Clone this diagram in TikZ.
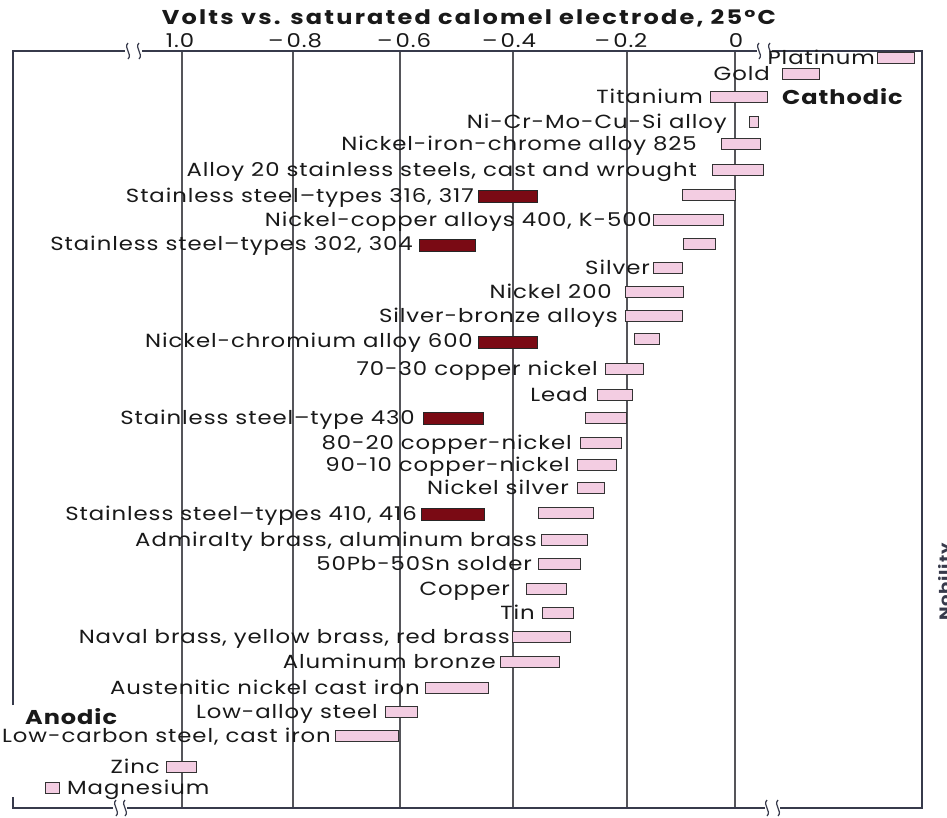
\documentclass[tikz,border=0pt]{standalone}
\usepackage{fontspec}
\setmainfont{Poppins}[FakeStretch=1.2, LetterSpace=4.8]
\newcommand\labfont{\fontsize{19}{22}\selectfont}
\definecolor{pinkfill}{RGB}{243,205,226}
\definecolor{darkredfill}{RGB}{122,10,20}
\definecolor{gridc}{RGB}{85,85,90}
\definecolor{framec}{RGB}{55,58,75}
\definecolor{txt}{RGB}{25,25,25}
\tikzset{
  lab/.style={anchor=base east, inner sep=0pt, font=\labfont, text=txt},
  pinkbar/.style={fill=pinkfill, draw=black!80, line width=1pt},
  redbar/.style={fill=darkredfill, draw=black!85, line width=1pt},
  gridline/.style={draw=gridc, line width=1.1pt},
  framel/.style={draw=framec, line width=1.4pt},
  brk/.style={draw=framec, line width=1.2pt},
  tick/.style={anchor=base, inner sep=0pt, font=\labfont, text=txt},
  sidelab/.style={inner sep=0pt, font=\fontsize{20}{23}\selectfont\bfseries, text=txt}
}
\newcommand\pb[3]{\draw[pinkbar] (#2,#1-5.5) rectangle (#3,#1+5.5);}
\newcommand\rb[3]{\draw[redbar] (#2,#1-6) rectangle (#3,#1+6);}
\begin{document}
\begin{tikzpicture}[x=1pt,y=-1pt]
\useasboundingbox (0,0) rectangle (947,817);
\fill[white] (0,0) rectangle (947,817);
% grid lines
\foreach \gx in {182,293,400,513,627,735} {\draw[gridline] (\gx,51) -- (\gx,808);}
% frame
\draw[framel] (13,705) -- (13,51) -- (125,51);
\draw[framel] (142,51) -- (757,51);
\draw[framel] (772,51) -- (922,51) -- (922,808) -- (780,808);
\draw[framel] (765,808) -- (127,808);
\draw[framel] (113,808) -- (13,808) -- (13,797);
% break marks
\foreach \bx/\by in {128/51,139/51,759/51,770/51,116/808,125/808,767/808,778/808}
  {\draw[brk] (\bx,\by-8) .. controls (\bx-5,\by-3) and (\bx+5,\by+3) .. (\bx,\by+8);}
% title and ticks
\node[anchor=base, inner sep=0pt, font=\fontsize{20}{23}\selectfont\bfseries\addfontfeatures{LetterSpace=11}, text=txt] (title) at (469,24) {Volts vs. saturated calomel electrode, 25°C};
\node[tick] (t1) at (180,47) {1.0};
\node[tick] (t2) at (295,47) {–\,0.8};
\node[tick] (t3) at (404,47) {–\,0.6};
\node[tick] (t4) at (509,47) {–\,0.4};
\node[tick] (t5) at (621,47) {–\,0.2};
\node[tick] (t6) at (736,47) {0};
% rows
\node[lab] (l1) at (875,64.5) {Platinum}; \pb{58}{877}{914}
\node[lab] (l2) at (770,80.5) {Gold}; \pb{74}{782}{819}
\node[lab] (l3) at (703,103.5) {Titanium}; \pb{97}{710}{767}
\node[sidelab, anchor=base west] (cath) at (782,104) {Cathodic};
\node[lab] (l4) at (727,128.5) {Ni-Cr-Mo-Cu-Si alloy}; \pb{122}{749}{758}
\node[lab] (l5) at (697,150.5) {Nickel-iron-chrome alloy 825}; \pb{144}{721}{760}
\node[lab] (l6) at (697,176.5) {Alloy 20 stainless steels, cast and wrought}; \pb{170}{712}{763}
\node[lab] (l7) at (474,202.5) {Stainless steel–types 316, 317}; \rb{196}{478}{537} \pb{195}{682}{735}
\node[lab] (l8) at (652,226.5) {Nickel-copper alloys 400, K-500}; \pb{220}{653}{723}
\node[lab] (l9) at (413,250.5) {Stainless steel–types 302, 304}; \rb{245}{419}{475} \pb{244}{683}{715}
\node[lab] (l10) at (650,274.5) {Silver}; \pb{268}{653}{682}
\node[lab] (l11) at (612,298.5) {Nickel 200}; \pb{292}{625}{683}
\node[lab] (l12) at (618,322.5) {Silver-bronze alloys}; \pb{316}{625}{682}
\node[lab] (l13) at (473,347.5) {Nickel-chromium alloy 600}; \rb{342}{478}{537} \pb{339}{634}{659}
\node[lab] (l14) at (598,375.5) {70-30 copper nickel}; \pb{369}{605}{643}
\node[lab] (l15) at (588,401.5) {Lead}; \pb{395}{597}{632}
\node[lab] (l16) at (415,424.5) {Stainless steel–type 430}; \rb{418}{423}{483} \pb{418}{585}{626}
\node[lab] (l17) at (572,449.5) {80-20 copper-nickel}; \pb{443}{580}{621}
\node[lab] (l18) at (570,471.5) {90-10 copper-nickel}; \pb{465}{577}{616}
\node[lab] (l19) at (569,494.5) {Nickel silver}; \pb{488}{577}{604}
\node[lab] (l20) at (417,520.5) {Stainless steel–types 410, 416}; \rb{514}{421}{484} \pb{513}{538}{593}
\node[lab] (l21) at (537,546.5) {Admiralty brass, aluminum brass}; \pb{540}{541}{587}
\node[lab] (l22) at (532,570.5) {50Pb-50Sn solder}; \pb{564}{538}{580}
\node[lab] (l23) at (510,595.5) {Copper}; \pb{589}{526}{566}
\node[lab] (l24) at (535,619.5) {Tin}; \pb{613}{542}{573}
\node[lab] (l25) at (510,643.5) {Naval brass, yellow brass, red brass}; \pb{637}{512}{570}
\node[lab] (l26) at (496,668.5) {Aluminum bronze}; \pb{662}{500}{559}
\node[lab] (l27) at (420,694.5) {Austenitic nickel cast iron}; \pb{688}{425}{488}
\node[lab] (l28) at (378,718.5) {Low-alloy steel}; \pb{712}{385}{417}
\node[sidelab, anchor=base west] (anod) at (25,724) {Anodic};
\node[lab] (l29) at (331,742.5) {Low-carbon steel, cast iron}; \pb{736}{335}{398}
\node[lab] (l30) at (160,773.5) {Zinc}; \pb{767}{166}{196}
\pb{788}{45}{59}
\node[anchor=base west, inner sep=0pt, font=\labfont, text=txt] (l31) at (67,794.5) {Magnesium};
% cut-off side label
\node[rotate=90, anchor=north, inner sep=0pt, font=\fontsize{15}{18}\selectfont\bfseries, text=framec] (nob) at (938,582) {Nobility};
\end{tikzpicture}
\end{document}
